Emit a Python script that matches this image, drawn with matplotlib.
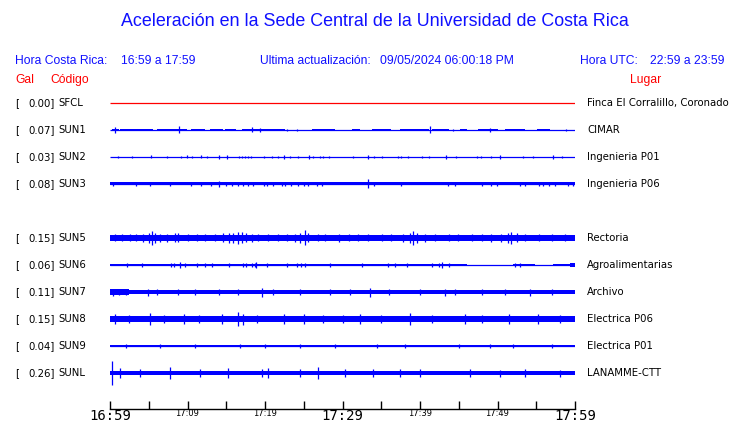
import matplotlib
matplotlib.use("Agg")
import matplotlib.pyplot as plt
import matplotlib.transforms as mtransforms

# ---------------- data ----------------
codes = ["SFCL", "SUN1", "SUN2", "SUN3", "SUN5", "SUN6", "SUN7", "SUN8", "SUN9", "SUNL"]
slots = [0, 1, 2, 3, 5, 6, 7, 8, 9, 10]
peaks = [0.00, 0.07, 0.03, 0.08, 0.15, 0.06, 0.11, 0.15, 0.04, 0.26]
places = ["Finca El Corralillo, Coronado", "CIMAR", "Ingenieria P01", "Ingenieria P06",
          "Rectoria", "Agroalimentarias", "Archivo", "Electrica P06", "Electrica P01", "LANAMME-CTT"]
trace_colors = ["red"] + ["blue"] * 9

tick_minutes = [0, 5, 10, 15, 20, 25, 30, 35, 40, 45, 50, 55, 60]
tick_labels = ["16:59", "", "17:09", "", "17:19", "", "17:29", "", "17:39", "", "17:49", "", "17:59"]
big_ticks = ["16:59", "17:29", "17:59"]

# band segments: (start min, end min, half height px)
bands = {
    "SFCL": [],
    "SUN1": [(0.2, 1.1, 1.3), (1.3, 5.6, 1.2), (6.0, 9.9, 1.2), (10.5, 12.3, 1.0), (12.9, 14.6, 1.0),
             (14.8, 16.3, 1.0), (17.0, 22.6, 1.3), (26.0, 29.0, 1.1), (31.2, 32.3, 1.0), (33.8, 36.3, 1.0),
             (37.4, 41.1, 1.3), (41.5, 43.7, 1.1), (45.2, 46.0, 1.0), (47.5, 50.1, 1.3), (51.0, 53.5, 0.9),
             (55.1, 56.8, 1.2)],
    "SUN2": [],
    "SUN3": [(0.0, 60.0, 1.5)],
    "SUN5": [(0.0, 60.0, 2.9)],
    "SUN6": [(0.0, 46.0, 1.4), (52.0, 54.9, 1.4), (57.2, 59.3, 1.4), (59.3, 60.0, 2.0)],
    "SUN7": [(0.0, 60.0, 1.8), (0.0, 2.5, 2.6)],
    "SUN8": [(0.0, 60.0, 3.3)],
    "SUN9": [(0.0, 60.0, 1.1)],
    "SUNL": [(0.0, 60.0, 2.4)],
}

# spikes: times (min) and half heights (px)
SUN1_t = [0.65, 8.9, 18.3, 19.4, 22.9, 24.1, 41.3, 44.3, 49.0, 58.9]
SUN1_h = [3.0, 3.5, 2.5, 2.0, 1.0, 1.0, 3.5, 1.0, 2.0, 1.0]
SUN2_t = [1.08, 2.8, 5.3, 7.3, 9.2, 9.9, 10.6, 11.7, 12.5, 14.1, 15.1, 16.6, 17.0, 17.4, 17.8,
          18.2, 19.9, 20.9, 21.7, 22.5, 23.2, 24.3, 25.7, 26.2, 27.1, 27.5, 28.3, 31.3, 33.3, 34.0,
          35.1, 37.1, 37.5, 38.5, 40.2, 41.1, 43.4, 44.6, 47.4, 47.9, 49.2, 50.3, 53.3, 54.6, 57.1, 58.3]
SUN2_h = [1.2, 1.0, 1.5, 1.0, 1.2, 1.5, 1.0, 1.5, 1.0, 1.6, 1.6, 1.2, 1.2, 1.2, 1.2,
          1.2, 1.0, 1.2, 1.0, 1.6, 1.0, 1.0, 1.6, 1.2, 1.0, 1.0, 1.0, 1.0, 1.6, 1.2,
          1.0, 1.0, 1.0, 1.2, 1.0, 1.0, 1.6, 1.2, 1.0, 1.0, 1.4, 1.6, 1.2, 1.0, 1.6, 1.0]
SUN3_t = [0.43, 3.4, 5.2, 7.7, 10.5, 11.7, 13.0, 14.0, 15.0, 15.8, 16.5, 17.1, 17.8, 18.5, 19.9,
          20.3, 21.0, 22.2, 22.6, 23.3, 24.3, 25.0, 25.6, 26.7, 27.3, 33.3, 34.0, 37.6, 43.6, 44.5,
          48.0, 49.1, 49.9, 52.9, 53.5, 55.3, 55.9, 56.7, 57.4, 59.1, 59.8]
SUN3_h = [2.0, 2.0, 2.0, 2.0, 2.0, 2.2, 2.0, 2.6, 2.4, 2.4, 2.2, 2.0, 2.0, 2.0, 2.0,
          2.0, 2.2, 2.0, 2.0, 2.0, 2.0, 2.0, 2.2, 2.0, 2.0, 4.5, 2.2, 2.0, 2.2, 2.0,
          2.0, 2.0, 2.2, 2.0, 2.0, 2.0, 2.0, 2.2, 2.2, 2.0, 2.2]
SUN5_t = [0.65, 1.5, 2.6, 3.4, 4.3, 5.0, 5.4, 5.8, 6.5, 7.3, 8.4, 8.8, 10.1, 11.2, 12.3, 13.6,
          14.6, 15.3, 15.9, 16.5, 17.0, 17.6, 18.3, 19.1, 20.4, 21.7, 22.8, 23.9, 24.5, 25.1,
          25.6, 26.9, 27.7, 29.5, 30.8, 32.0, 33.3, 35.1, 36.3, 37.8, 38.7, 39.1, 39.6, 40.6,
          41.9, 43.7, 44.9, 46.7, 48.0, 49.2, 50.5, 51.4, 51.8, 52.5, 53.5, 55.3, 57.0, 58.7]
SUN5_h = [3.5, 3.5, 3.5, 3.5, 4.0, 5.0, 7.0, 5.0, 4.0, 4.0, 4.5, 4.5, 3.5, 3.5, 3.5, 3.5,
          4.5, 5.0, 5.0, 6.0, 5.5, 4.5, 4.0, 3.5, 3.5, 3.5, 3.5, 4.0, 5.0, 7.5,
          4.5, 3.5, 3.5, 4.0, 3.5, 3.5, 3.5, 3.5, 3.5, 4.0, 5.0, 7.0, 5.0, 4.0,
          3.5, 3.5, 3.5, 3.5, 3.5, 4.0, 4.0, 5.0, 6.0, 4.5, 3.5, 3.5, 3.5, 3.5]
SUN6_t = [2.15, 4.1, 7.9, 8.2, 9.0, 9.7, 11.2, 12.3, 13.2, 15.3, 17.2, 17.6, 18.3, 18.7, 18.9,
          20.2, 22.8, 24.1, 24.7, 25.1, 28.4, 32.5, 35.9, 36.8, 38.3, 41.5, 42.4, 42.8, 43.7, 52.3, 52.9]
SUN6_h = [2.0, 2.0, 2.0, 2.0, 3.0, 2.2, 2.2, 2.0, 2.0, 2.0, 2.2, 2.0, 2.2, 2.2, 2.6,
          2.0, 2.0, 2.0, 2.0, 2.0, 2.0, 2.0, 2.2, 2.0, 2.0, 2.0, 2.2, 2.6, 2.0, 2.0, 2.0]
SUN7_t = [0.4, 1.2, 2.0, 4.9, 6.0, 8.8, 11.0, 14.0, 16.5, 19.6, 21.0, 24.5, 28.4, 31.0, 33.5,
          36.0, 40.0, 43.2, 44.5, 48.0, 51.0, 54.2, 57.0]
SUN7_h = [3.5, 3.2, 3.0, 3.5, 2.8, 3.0, 2.6, 2.6, 2.8, 4.5, 3.0, 3.0, 3.0, 2.6, 4.5,
          2.6, 2.8, 3.5, 3.0, 2.8, 2.8, 3.5, 2.8]
SUN8_t = [0.6, 2.5, 5.2, 7.0, 9.5, 11.5, 14.5, 16.5, 17.2, 19.0, 22.5, 25.0, 27.5, 30.0, 32.3,
          35.0, 38.7, 41.5, 45.8, 48.0, 51.5, 55.2, 58.0]
SUN8_h = [5.0, 4.5, 6.0, 4.5, 5.0, 4.5, 5.0, 7.0, 5.5, 4.5, 5.0, 5.0, 4.5, 4.5, 5.0,
          4.5, 6.0, 4.5, 5.0, 4.5, 5.0, 5.0, 4.5]
SUN9_t = [2.0, 6.5, 11.0, 16.8, 20.0, 24.5, 29.0, 34.5, 38.0, 45.0, 49.0, 52.0, 57.0]
SUN9_h = [2.0, 1.8, 1.8, 2.0, 1.8, 2.0, 1.8, 1.8, 2.0, 1.8, 2.0, 1.8, 1.8]
SUNL_t = [0.26, 1.3, 3.9, 7.7, 11.6, 15.2, 19.6, 20.4, 24.5, 26.8, 30.3, 33.9, 37.4, 40.0,
          46.5, 50.3, 53.6, 58.1]
SUNL_h = [12.0, 5.0, 4.0, 6.0, 4.0, 5.0, 4.0, 5.0, 4.0, 6.0, 4.0, 4.5, 4.0, 4.0,
          4.0, 3.5, 4.0, 3.5]

spikes = {
    "SFCL": ([], []),
    "SUN1": (SUN1_t, SUN1_h), "SUN2": (SUN2_t, SUN2_h), "SUN3": (SUN3_t, SUN3_h),
    "SUN5": (SUN5_t, SUN5_h), "SUN6": (SUN6_t, SUN6_h), "SUN7": (SUN7_t, SUN7_h),
    "SUN8": (SUN8_t, SUN8_h), "SUN9": (SUN9_t, SUN9_h), "SUNL": (SUNL_t, SUNL_h),
}

# ---------------- layout ----------------
W, H = 740, 423
SLOT_PX = 27.0
fig = plt.figure(figsize=(W / 100, H / 100), dpi=100)
fig.patch.set_facecolor("white")

ax_left, ax_right, ax_top, ax_bot = 110, 575, 90, 409
ax = fig.add_axes([ax_left / W, (H - ax_bot) / H, (ax_right - ax_left) / W, (ax_bot - ax_top) / H])
first_center = 103
ax.set_xlim(0, 60)
ax.set_ylim((ax_bot - first_center) / SLOT_PX, (ax_top - first_center) / SLOT_PX)
for s in ["top", "left", "right"]:
    ax.spines[s].set_visible(False)
ax.spines["bottom"].set_linewidth(1.0)
ax.set_yticks([])
ax.set_xticks(tick_minutes)
ax.set_xticklabels(tick_labels)
ax.tick_params(axis="x", direction="in", length=6, width=1.0, pad=0, colors="black")
for lab in ax.get_xticklabels():
    if lab.get_text() in big_ticks:
        lab.set_fontfamily("DejaVu Sans Mono")
        lab.set_fontsize(10)
    else:
        lab.set_fontfamily("DejaVu Sans")
        lab.set_fontsize(6)

px1 = 1.0 / SLOT_PX
for code, slot, col in zip(codes, slots, trace_colors):
    ax.plot([0, 60], [slot, slot], color=col, lw=0.9, solid_capstyle="butt")
    for (a, b, h) in bands[code]:
        ax.fill_between([a, b], slot - h * px1, slot + h * px1, color=col, lw=0, edgecolor="none")
    ts, hs = spikes[code]
    if ts:
        ax.vlines(ts, [slot - h * px1 for h in hs], [slot + h * px1 for h in hs], color=col, lw=0.9)

# labels
tr = mtransforms.blended_transform_factory(fig.transFigure, ax.transData)
for code, slot, pk, place in zip(codes, slots, peaks, places):
    ax.text(15 / W, slot, "[", transform=tr, ha="left", va="center", fontsize=7.3,
            family="DejaVu Sans", color="black")
    ax.text(55 / W, slot, f"{pk:.2f}]", transform=tr, ha="right", va="center", fontsize=7.3,
            family="DejaVu Sans", color="black")
    ax.text(58 / W, slot, code, transform=tr, ha="left", va="center", fontsize=7.3,
            family="DejaVu Sans", color="black")
    ax.text(587 / W, slot, place, transform=tr, ha="left", va="center", fontsize=7.3,
            family="DejaVu Sans", color="black")

hf = "Liberation Sans"
blue = "#1010ff"
fig.text(375 / W, 1 - 22 / H, "Aceleración en la Sede Central de la Universidad de Costa Rica",
         ha="center", va="center", fontsize=12.9, family=hf, color=blue)
fig.text(15 / W, 1 - 61 / H, "Hora Costa Rica:", ha="left", va="center", fontsize=8.7, family=hf, color=blue)
fig.text(121 / W, 1 - 61 / H, "16:59 a 17:59", ha="left", va="center", fontsize=8.7, family=hf, color=blue)
fig.text(260 / W, 1 - 61 / H, "Ultima actualización:", ha="left", va="center", fontsize=8.7, family=hf, color=blue)
fig.text(380 / W, 1 - 61 / H, "09/05/2024 06:00:18 PM", ha="left", va="center", fontsize=8.7, family=hf, color=blue)
fig.text(580 / W, 1 - 61 / H, "Hora UTC:", ha="left", va="center", fontsize=8.7, family=hf, color=blue)
fig.text(725 / W, 1 - 61 / H, "22:59 a 23:59", ha="right", va="center", fontsize=8.7, family=hf, color=blue)
fig.text(15 / W, 1 - 80 / H, "Gal", ha="left", va="center", fontsize=8.7, family=hf, color="red")
fig.text(50 / W, 1 - 80 / H, "Código", ha="left", va="center", fontsize=8.7, family=hf, color="red")
fig.text(630 / W, 1 - 80 / H, "Lugar", ha="left", va="center", fontsize=8.7, family=hf, color="red")

fig.savefig("out.png", dpi=100, facecolor="white")
